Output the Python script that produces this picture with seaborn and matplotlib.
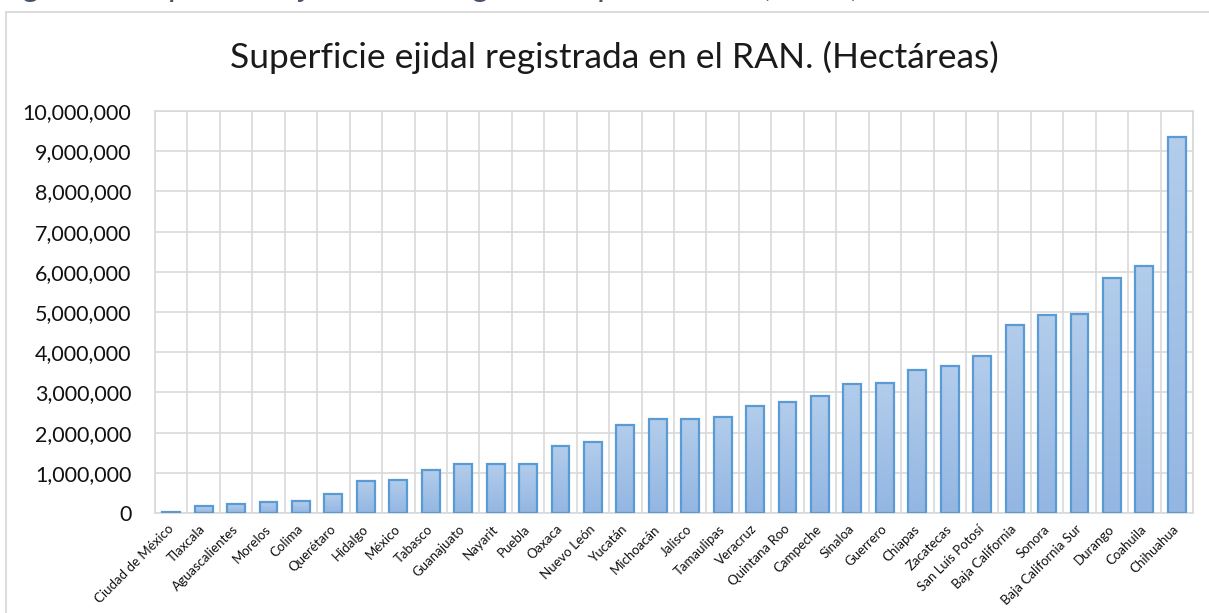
import numpy as np
import pandas as pd
import matplotlib
matplotlib.use("Agg")
import matplotlib.pyplot as plt
import seaborn as sns
from matplotlib.patches import Rectangle
from matplotlib.ticker import FuncFormatter, FixedLocator

# ---- data -----------------------------------------------------------------
states = [
    "Ciudad de México", "Tlaxcala", "Aguascalientes", "Morelos", "Colima",
    "Querétaro", "Hidalgo", "México", "Tabasco", "Guanajuato", "Nayarit",
    "Puebla", "Oaxaca", "Nuevo León", "Yucatán", "Michoacán", "Jalisco",
    "Tamaulipas", "Veracruz", "Quintana Roo", "Campeche", "Sinaloa",
    "Guerrero", "Chiapas", "Zacatecas", "San Luís Potosí", "Baja California",
    "Sonora", "Baja California Sur", "Durango", "Coahuila", "Chihuahua",
]
hectares = [
    20000, 170000, 220000, 280000, 290000,
    470000, 790000, 830000, 1060000, 1210000, 1210000,
    1220000, 1660000, 1760000, 2180000, 2330000, 2340000,
    2400000, 2670000, 2760000, 2900000, 3220000,
    3240000, 3560000, 3650000, 3910000, 4680000,
    4920000, 4940000, 5840000, 6150000, 9360000,
]
y_ticks = list(range(0, 10_000_001, 1_000_000))

title = "Superficie ejidal registrada en el RAN. (Hectáreas)"
caption = "Figura 2. Superficie ejidal total registrada por el RAN (2017)"

# ---- style ----------------------------------------------------------------
sns.set_theme(style="white")
plt.rcParams['font.family'] = ['Lato', 'DejaVu Sans']

W, H = 1209, 613
fig = plt.figure(figsize=(W / 100, H / 100), dpi=100)
fig.patch.set_facecolor("white")

# outer chart frame (light gray)
fig.add_artist(Rectangle((6 / W, -0.05), 1.2, 1 - 12 / H + 0.05,
                         transform=fig.transFigure, fill=False,
                         edgecolor="#d9d9d9", linewidth=1.3))

ax = fig.add_axes([155 / W, 1 - 513 / H, (1193 - 155) / W, (513 - 111) / H])

df = pd.DataFrame({"estado": states, "ha": hectares})
sns.barplot(data=df, x="estado", y="ha", color="#a3c1e6", width=0.55,
            edgecolor="#5b9bd5", linewidth=1.6, ax=ax, zorder=3)

# vertical gradient fill clipped to each bar
grad = np.linspace(0, 1, 256).reshape(-1, 1)
cmap = matplotlib.colors.LinearSegmentedColormap.from_list(
    "g", ["#93b6e2", "#b3cdeb"])
for p in list(ax.patches):
    x0, y0 = p.get_x(), p.get_y()
    w, h = p.get_width(), p.get_height()
    im = ax.imshow(grad, cmap=cmap, aspect="auto", origin="lower",
                   extent=[x0, x0 + w, y0, y0 + h], zorder=2.5)
    im.set_clip_path(p)
    p.set_facecolor("none")

n = len(states)
ax.set_xlim(-0.5, n - 0.5)
ax.set_ylim(0, 10_000_000)

# grid
ax.yaxis.set_major_locator(FixedLocator(y_ticks))
ax.yaxis.set_major_formatter(FuncFormatter(lambda v, _: f"{v:,.0f}"))
ax.xaxis.set_minor_locator(FixedLocator(np.arange(-0.5, n, 1.0)))
ax.grid(True, which="major", axis="y", color="#d9d9d9", linewidth=1.2, zorder=0)
ax.grid(True, which="minor", axis="x", color="#d9d9d9", linewidth=1.2, zorder=0)
ax.grid(False, which="major", axis="x")
ax.set_axisbelow(True)
for s in ax.spines.values():
    s.set_color("#d9d9d9")
    s.set_linewidth(1.2)

ax.tick_params(axis="y", length=0, pad=17, labelsize=15.5, labelcolor="#111111")
ax.tick_params(axis="x", which="both", length=0, pad=10, labelsize=9.5,
               labelcolor="#111111")
plt.setp(ax.get_xticklabels(), rotation=45, ha="right", va="center",
         rotation_mode="anchor")
ax.set_xlabel("")
ax.set_ylabel("")

fig.text(614 / W, 1 - 57 / H, title, ha="center", va="center",
         fontsize=25.5, color="#1a1a1a")

# partially cut caption at the very top (as in the reference)
fig.text(-0.002, 1 + 4.5 / H, caption, ha="left", va="baseline",
         fontsize=25, style="italic", color="#44546a")

fig.savefig("out.png", dpi=100)
